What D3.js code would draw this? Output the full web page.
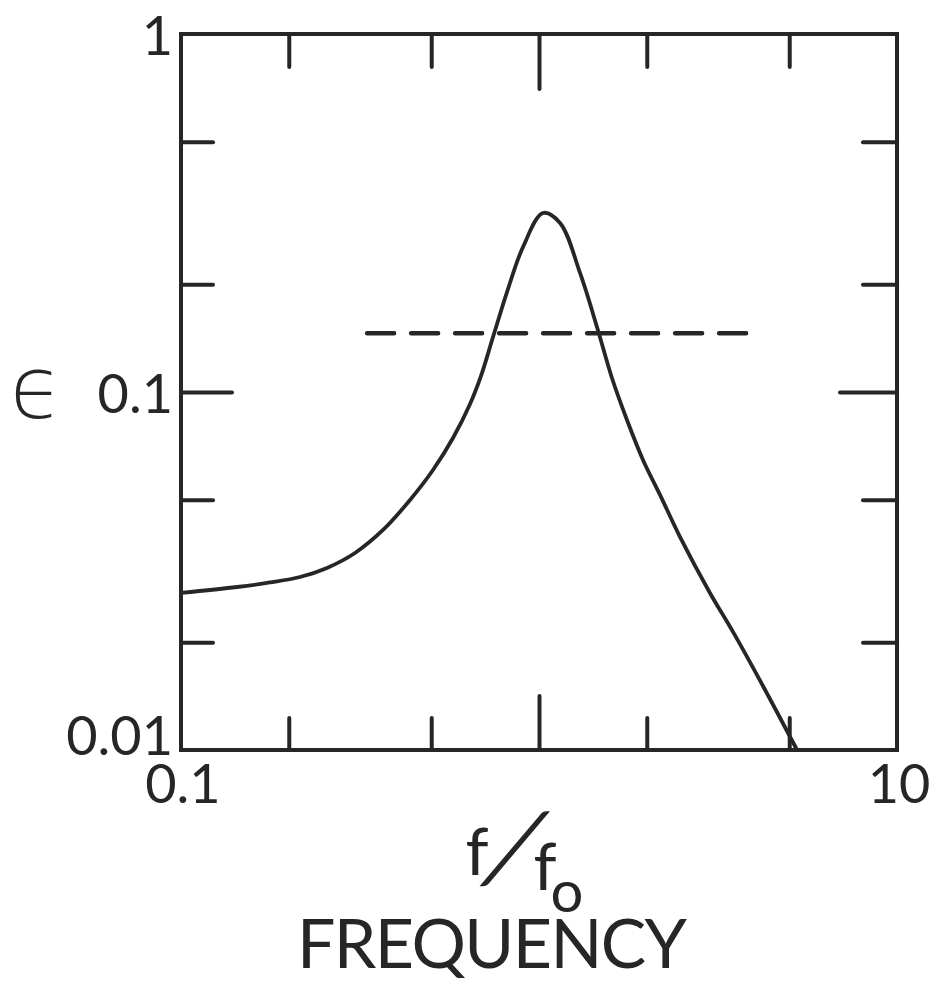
<!DOCTYPE html>
<html>
<head>
<meta charset="utf-8">
<script src="https://cdn.jsdelivr.net/npm/d3@7"></script>
<style>
  body { margin: 0; background: #fff; }
  text { font-family: Lato, "Open Sans", sans-serif; font-weight: 400; fill: #262626; }
</style>
</head>
<body>
<svg id="chart" width="930" height="983"></svg>
<script>
// curve: f/f0 vs epsilon
var freq = [0.1, 0.1434, 0.1772, 0.215, 0.2557, 0.3062, 0.3667, 0.4362, 0.5057, 0.5751, 0.6418, 0.6887, 0.7439, 0.814,
            0.9022, 1.026, 1.145, 1.302, 1.452, 1.599, 1.761, 1.952, 2.178, 2.476, 3.003, 3.483, 4.224, 5.258];
var eps  = [0.02746, 0.02853, 0.02937, 0.03042, 0.03225, 0.03551, 0.04117, 0.04993, 0.06055, 0.07438, 0.09257, 0.1109, 0.1424, 0.1902,
            0.2541, 0.3162, 0.2966, 0.215, 0.1519, 0.1094, 0.0835, 0.0646, 0.0516, 0.0394, 0.02746, 0.02137, 0.01509, 0.01];

// dashed level
var dashFreq = [0.331, 4.06];
var dashEps = 0.146;

var xMinorTicks = [0.2, 0.5, 2, 5];
var xMajorTicks = [1];
var yMinorTicks = [0.02, 0.05, 0.2, 0.5];
var yMajorTicks = [0.1];

var xTickLabels = [[0.1, "0.1"], [10, "10"]];
var yTickLabels = [[1, "1"], [0.1, "0.1"], [0.01, "0.01"]];

var ink = "#262626";
var svg = d3.select("#chart");

var x = d3.scaleLog().domain([0.1, 10]).range([181, 897]);
var y = d3.scaleLog().domain([0.01, 1]).range([750, 34]);

function tickAxis(axis, values, size){
    return axis.tickValues(values).tickSize(-size).tickFormat("");
}

var axes = [
    [d3.axisBottom(x), xMinorTicks, 32, "translate(0,750)"],
    [d3.axisBottom(x), xMajorTicks, 54, "translate(0,750)"],
    [d3.axisTop(x), xMinorTicks, 33, "translate(0,34)"],
    [d3.axisTop(x), xMajorTicks, 55, "translate(0,34)"],
    [d3.axisLeft(y), yMinorTicks, 32, "translate(181,0)"],
    [d3.axisLeft(y), yMajorTicks, 51, "translate(181,0)"],
    [d3.axisRight(y), yMinorTicks, 34, "translate(897,0)"],
    [d3.axisRight(y), yMajorTicks, 57, "translate(897,0)"]
];

axes.forEach(function(a){
    var g = svg.append("g").attr("transform", a[3]).call(tickAxis(a[0], a[1], a[2]));
    g.select(".domain").remove();
    g.selectAll(".tick line")
        .attr("stroke", ink).attr("stroke-width", 4).attr("stroke-linecap", "round");
});

// frame
svg.append("rect")
    .attr("x", x(0.1)).attr("y", y(1))
    .attr("width", x(10) - x(0.1)).attr("height", y(0.01) - y(1))
    .attr("fill", "none").attr("stroke", ink).attr("stroke-width", 4);

// dashed line
svg.append("line")
    .attr("x1", x(dashFreq[0])).attr("x2", x(dashFreq[1]))
    .attr("y1", y(dashEps)).attr("y2", y(dashEps))
    .attr("stroke", ink).attr("stroke-width", 4.5)
    .attr("stroke-dasharray", "27,17").attr("stroke-linecap", "round");

// main curve
var pts = freq.map(function(f, i){ return [f, eps[i]]; });
var line = d3.line()
    .x(function(d){ return x(d[0]); })
    .y(function(d){ return y(d[1]); })
    .curve(d3.curveCatmullRom.alpha(0.5));

svg.append("path")
    .datum(pts)
    .attr("d", line)
    .attr("fill", "none").attr("stroke", ink)
    .attr("stroke-width", 3.8).attr("stroke-linejoin", "round");

// tick labels
svg.selectAll(".xlab").data(xTickLabels).enter().append("text")
    .attr("x", function(d){ return x(d[0]) + 2; })
    .attr("y", 803)
    .attr("text-anchor", "middle")
    .attr("font-size", 54)
    .text(function(d){ return d[1]; });

svg.selectAll(".ylab").data(yTickLabels).enter().append("text")
    .attr("x", 173)
    .attr("y", function(d){ return Math.min(y(d[0]) + 21, 755); })
    .attr("text-anchor", "end")
    .attr("font-size", 54)
    .text(function(d){ return d[1]; });

// y title
svg.append("text").attr("x", 10).attr("y", 418)
    .style("font-family", "'DejaVu Sans'").style("font-weight", 200)
    .attr("font-size", 86).text("ϵ");

// x title  f/f0
var xt = svg.append("g");
xt.append("text").attr("x", 477).attr("y", 875).attr("font-size", 66).attr("text-anchor", "middle").text("f");
xt.append("text").attr("transform", "translate(500,882) skewX(-24)")
    .attr("font-size", 96).attr("text-anchor", "middle").text("/");
xt.append("text").attr("x", 545).attr("y", 890).attr("font-size", 66).attr("text-anchor", "middle").text("f");
xt.append("text").attr("x", 567).attr("y", 912).attr("font-size", 58).attr("text-anchor", "middle").text("o");

svg.append("text")
    .attr("x", 492).attr("y", 968)
    .attr("text-anchor", "middle")
    .attr("font-size", 68)
    .attr("textLength", 390)
    .text("FREQUENCY");
</script>
</body>
</html>
